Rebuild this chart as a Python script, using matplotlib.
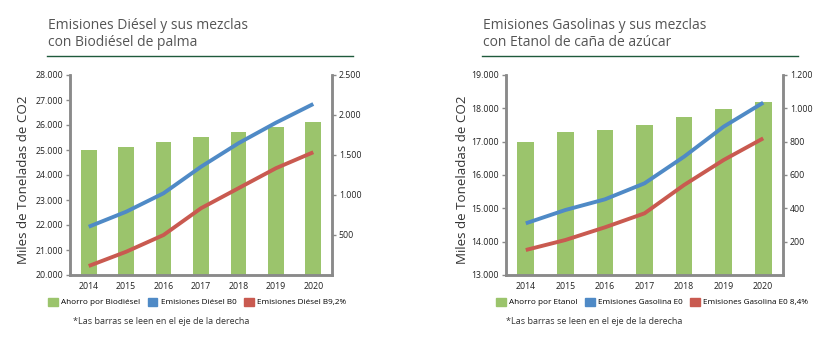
import matplotlib.pyplot as plt
from matplotlib.patches import Patch
from matplotlib.lines import Line2D

years = ["2014", "2015", "2016", "2017", "2018", "2019", "2020"]

# Diesel chart (left axis: emissions, right axis: savings bars)
diesel_ahorro = [1560, 1600, 1660, 1725, 1790, 1850, 1910]
diesel_b0 = [21930, 22530, 23270, 24330, 25270, 26090, 26840]
diesel_b92 = [20360, 20930, 21600, 22670, 23470, 24270, 24910]

# Gasoline chart
gas_ahorro = [795, 855, 870, 902, 948, 994, 1040]
gas_e0 = [14550, 14950, 15270, 15750, 16550, 17450, 18170]
gas_e84 = [13750, 14050, 14430, 14850, 15700, 16450, 17100]

green = "#9bc46c"
blue = "#4f8ac6"
red = "#c95a50"
spine = "#8a8a8a"

plt.rcParams['font.family'] = ['Open Sans', 'DejaVu Sans']

fig = plt.figure(figsize=(8.32, 3.43), dpi=100)
W, H = 832, 343


def fx(px):
    return px / W


def fy(py):
    return 1 - py / H


def fmt(v, pos=None):
    return f"{int(v):,}".replace(",", ".")


def make_chart(left, right, title, bars, line1, line2, ylim, y2lim, yticks, y2ticks,
               labels, title_x, rule_x1, ylabel_x, foot_x, leg_x):
    ax = fig.add_axes([fx(left), fy(275), fx(right - left), (275 - 75) / H])
    ax2 = ax.twinx()
    x = range(len(years))
    ax2.bar(x, bars, width=0.42, color=green, zorder=1)
    ax.plot(x, line1, color=blue, lw=2.8, solid_capstyle='butt')
    ax.plot(x, line2, color=red, lw=2.8, solid_capstyle='butt')
    ax.set_zorder(ax2.get_zorder() + 1)
    ax.patch.set_visible(False)

    ax.set_xlim(-0.5, len(years) - 0.5)
    ax.set_ylim(*ylim)
    ax2.set_ylim(*y2lim)
    ax.set_yticks(yticks)
    ax2.set_yticks(y2ticks)
    ax.yaxis.set_major_formatter(fmt)
    ax2.yaxis.set_major_formatter(fmt)
    ax.set_xticks(list(x))
    ax.set_xticklabels(years)

    for a in (ax, ax2):
        a.spines['top'].set_visible(False)
        for s in ('left', 'right', 'bottom'):
            a.spines[s].set_color(spine)
            a.spines[s].set_linewidth(1.8)
        a.tick_params(labelsize=6.3, colors="#222222", length=3, width=1, pad=2)
        a.tick_params(axis='both', color=spine)
    ax.tick_params(axis='x', length=0, pad=5)

    fig.text(fx(ylabel_x), fy(180), "Miles de Toneladas de CO2", rotation=90,
             ha='center', va='center', fontsize=9.6, color="#333333")
    fig.text(fx(title_x), fy(50), title, ha='left', va='bottom', fontsize=10,
             color="#555555", linespacing=1.15)
    fig.add_artist(Line2D([fx(title_x - 1), fx(rule_x1)], [fy(56), fy(56)],
                          color="#1f5a3c", lw=1.0))

    handles = [Patch(color=green), Patch(color=blue), Patch(color=red)]
    fig.legend(handles, labels, ncol=3, loc='center left',
               bbox_to_anchor=(fx(leg_x), fy(302)), frameon=False, fontsize=5.9,
               handlelength=1.2, handleheight=1.2, handletextpad=0.4,
               columnspacing=0.9, borderpad=0, borderaxespad=0)
    fig.text(fx(foot_x), fy(321), "*Las barras se leen en el eje de la derecha",
             ha='left', va='center', fontsize=6.5, color="#333333")


make_chart(70, 332, "Emisiones Diésel y sus mezclas\ncon Biodiésel de palma",
           diesel_ahorro, diesel_b0, diesel_b92,
           (20000, 28000), (0, 2500),
           range(20000, 28001, 1000), range(500, 2501, 500),
           ["Ahorro por Biodiésel", "Emisiones Diésel B0", "Emisiones Diésel B9,2%"],
           48, 353, 24, 73, 48)

make_chart(506, 783, "Emisiones Gasolinas y sus mezclas\ncon Etanol de caña de azúcar",
           gas_ahorro, gas_e0, gas_e84,
           (13000, 19000), (0, 1200),
           range(13000, 19001, 1000), range(200, 1201, 200),
           ["Ahorro por Etanol", "Emisiones Gasolina E0", "Emisiones Gasolina E0 8,4%"],
           483, 798, 462, 506, 496)

fig.savefig("out.png", dpi=100)
